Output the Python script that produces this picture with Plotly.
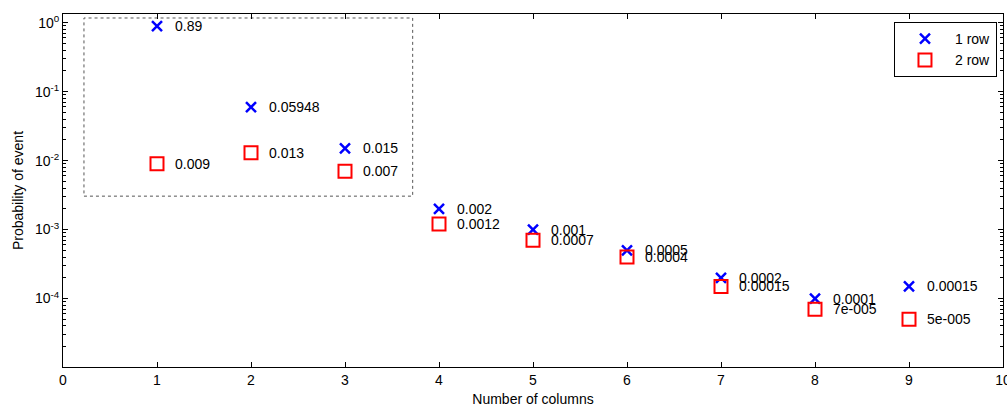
import math
import plotly.graph_objects as go

columns = [1, 2, 3, 4, 5, 6, 7, 8, 9]
row1 = [0.89, 0.05948, 0.015, 0.002, 0.001, 0.0005, 0.0002, 0.0001, 0.00015]
row2 = [0.009, 0.013, 0.007, 0.0012, 0.0007, 0.0004, 0.00015, 7e-5, 5e-5]
row1_labels = ["0.89", "0.05948", "0.015", "0.002", "0.001", "0.0005", "0.0002", "0.0001", "0.00015"]
row2_labels = ["0.009", "0.013", "0.007", "0.0012", "0.0007", "0.0004", "0.00015", "7e-005", "5e-005"]
x_ticks = list(range(0, 11))
y_tickvals = [1e-4, 1e-3, 1e-2, 1e-1, 1]
y_ticktext = ["10<sup>-4</sup>", "10<sup>-3</sup>", "10<sup>-2</sup>", "10<sup>-1</sup>", "10<sup>0</sup>"]

FONT = "Liberation Sans, Arial, sans-serif"

fig = go.Figure()
fig.add_trace(go.Scatter(
    x=columns, y=row1, mode="markers", name="1 row",
    marker=dict(symbol="x-thin", size=10, color="rgba(0,0,0,0)",
                line=dict(color="#0000ff", width=2.5)),
))
fig.add_trace(go.Scatter(
    x=columns, y=row2, mode="markers", name="2 row",
    marker=dict(symbol="square-open", size=13, color="#ff0000",
                line=dict(color="#ff0000", width=2)),
))

annotations = []
for xs, ys, labs in [(columns, row1, row1_labels), (columns, row2, row2_labels)]:
    for xv, yv, lab in zip(xs, ys, labs):
        annotations.append(dict(
            x=xv, y=math.log10(yv), text=lab, showarrow=False,
            xanchor="left", yanchor="middle", xshift=16,
            font=dict(family=FONT, size=14, color="black"),
        ))

fig.update_layout(
    width=1007, height=407,
    margin=dict(l=63, r=4, t=14, b=40, autoexpand=False),
    paper_bgcolor="white", plot_bgcolor="white",
    font=dict(family=FONT, size=14, color="black"),
    annotations=annotations,
    showlegend=True,
    legend=dict(
        x=0.9936, y=0.977, xanchor="right", yanchor="top",
        bgcolor="white", bordercolor="black", borderwidth=1,
        font=dict(family=FONT, size=14, color="black"),
        itemwidth=50, tracegroupgap=0,
    ),
    shapes=[dict(
        type="rect", xref="paper", yref="paper",
        x0=0.0223, x1=0.372, y0=0.484, y1=0.9887,
        line=dict(color="#555555", width=1, dash="dot"),
        fillcolor="rgba(0,0,0,0)", layer="below",
    )],
)

fig.update_xaxes(
    range=[0, 10], tickvals=x_ticks, ticktext=[str(v) for v in x_ticks],
    ticks="inside", ticklen=5, tickcolor="black", ticklabeloverflow="allow",
    showline=True, linecolor="black", linewidth=1, mirror="ticks",
    showgrid=False, zeroline=False, automargin=False,
    title=dict(text="Number of columns", font=dict(family=FONT, size=14)),
    tickfont=dict(family=FONT, size=14),
)
fig.update_yaxes(
    type="log", range=[-4.993, 0.126],
    tickvals=y_tickvals, ticktext=y_ticktext,
    ticks="inside", ticklen=5, tickcolor="black",
    minor=dict(ticks="inside", ticklen=3, tickcolor="black", dtick="D1", showgrid=False),
    showline=True, linecolor="black", linewidth=1, mirror="ticks",
    showgrid=False, zeroline=False, automargin=True,
    title=dict(text="Probability of event", font=dict(family=FONT, size=14), standoff=8),
    tickfont=dict(family=FONT, size=14),
)

fig.write_html(
    "out.html",
    config={"displayModeBar": False},
    post_script="document.body.style.margin='0';document.body.style.padding='0';",
)
